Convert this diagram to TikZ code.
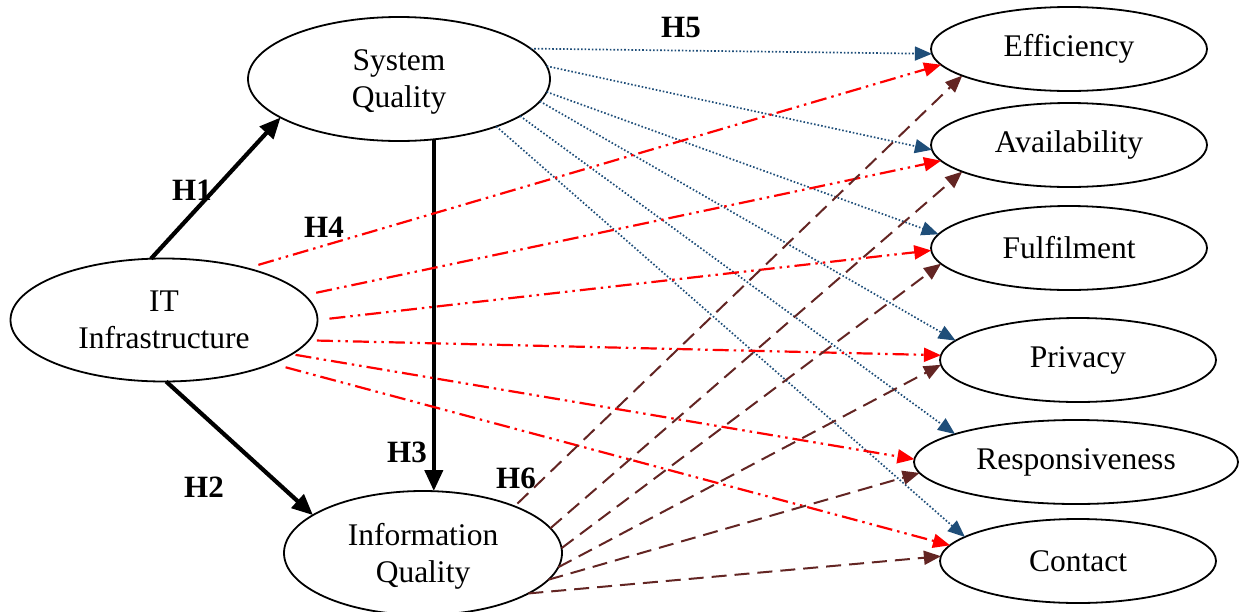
\documentclass[tikz,border=0pt]{standalone}
\usepackage{fontspec}
\setmainfont{Liberation Serif}
\usetikzlibrary{arrows.meta,shapes.geometric}
\definecolor{bluearr}{RGB}{31,78,121}
\definecolor{brownarr}{RGB}{99,37,35}
\begin{document}
\begin{tikzpicture}[x=1pt,y=-1pt,
  ell/.style={draw, ellipse, line width=1.8pt, inner sep=0pt, outer sep=0pt, align=center,
    font=\fontsize{31.5}{37}\selectfont},
  hyp/.style={font=\fontsize{31}{37}\selectfont\bfseries, inner sep=0pt},
  mainarr/.style={line width=4.2pt, -{Triangle[length=21pt,width=18pt]}},
  sqarr/.style={bluearr, line width=1.7pt, dash pattern=on 1.6pt off 2pt, -{Triangle[length=17pt,width=14pt]}},
  itarr/.style={red, line width=2.2pt, dash pattern=on 16pt off 5pt on 2.5pt off 5pt on 2.5pt off 5pt, -{Triangle[length=17pt,width=14pt]}},
  iqarr/.style={brownarr, line width=2pt, dash pattern=on 15pt off 8pt, -{Triangle[length=17pt,width=14pt]}},
]
\useasboundingbox (0,0) rectangle (1240,611);

% nodes
\node[ell, minimum width=302, minimum height=124, text depth=-3pt] (sq) at (399,79) {System\\Quality};
\node[ell, minimum width=307, minimum height=123, text depth=-4pt] (it) at (164,320) {IT\\Infrastructure};
\node[ell, minimum width=278, minimum height=124, text depth=0pt] (iq) at (423,553) {Information\\Quality};
\node[ell, minimum width=276, minimum height=84] (eff) at (1069,49) {Efficiency};
\node[ell, minimum width=276, minimum height=84] (ava) at (1069,145) {Availability};
\node[ell, minimum width=276, minimum height=84] (ful) at (1069,248) {Fulfilment};
\node[ell, minimum width=276, minimum height=84] (pri) at (1078,360) {Privacy};
\node[ell, minimum width=324, minimum height=84] (res) at (1076,462) {Responsiveness};
\node[ell, minimum width=276, minimum height=84] (con) at (1078,561) {Contact};

% main paths
\draw[mainarr] (it.102.9) -- (sq.198.6);
\draw[mainarr] (it.272) -- (iq.161.7);
\draw[mainarr] (sq.-60) -- (sq.-60 |- iq.north);

% System Quality -> dimensions (H5)
\draw[sqarr] (sq.13.7) -- (eff.182.5);
\draw[sqarr] (sq.5.8) -- (ava.182);
\draw[sqarr] (sq.-5) -- (ful.174.7);
\draw[sqarr] (sq.-9.7) -- (pri.171.5);
\draw[sqarr] (sq.-17.7) -- (res.167.9);
\draw[sqarr] (sq.-26.3) -- (con.168.7);

% IT Infrastructure -> dimensions (H4)
\draw[itarr, shorten <=12pt] (it.32.1) -- (eff.187.1);
\draw[itarr, shorten <=12pt] (it.10.3) -- (ava.187.9);
\draw[itarr, shorten <=12pt] (it.0.6) -- (ful.181.8);
\draw[itarr, shorten <=8pt] (it.-8.8) -- (pri.178);
\draw[itarr, shorten <=4pt] (it.-15) -- (res.179);
\draw[itarr, shorten <=14pt] (it.-22.8) -- (con.173.7);

% Information Quality -> dimensions (H6)
\draw[iqarr, shorten <=4pt] (iq.27.6) -- (eff.194.2);
\draw[iqarr] (iq.11.7) -- (ava.194.2);
\draw[iqarr] (iq.2.5) -- (ful.187.5);
\draw[iqarr] (iq.-6) -- (pri.182.9);
\draw[iqarr] (iq.-12.3) -- (res.184.3);
\draw[iqarr] (iq.-21.8) -- (con.178.3);

% labels
\node[hyp] (h1) at (192,190) {H1};
\node[hyp] (h2) at (204,487) {H2};
\node[hyp] (h3) at (407,452) {H3};
\node[hyp] (h4) at (324,227) {H4};
\node[hyp] (h5) at (681,27) {H5};
\node[hyp] (h6) at (516,478) {H6};
\end{tikzpicture}
\end{document}
